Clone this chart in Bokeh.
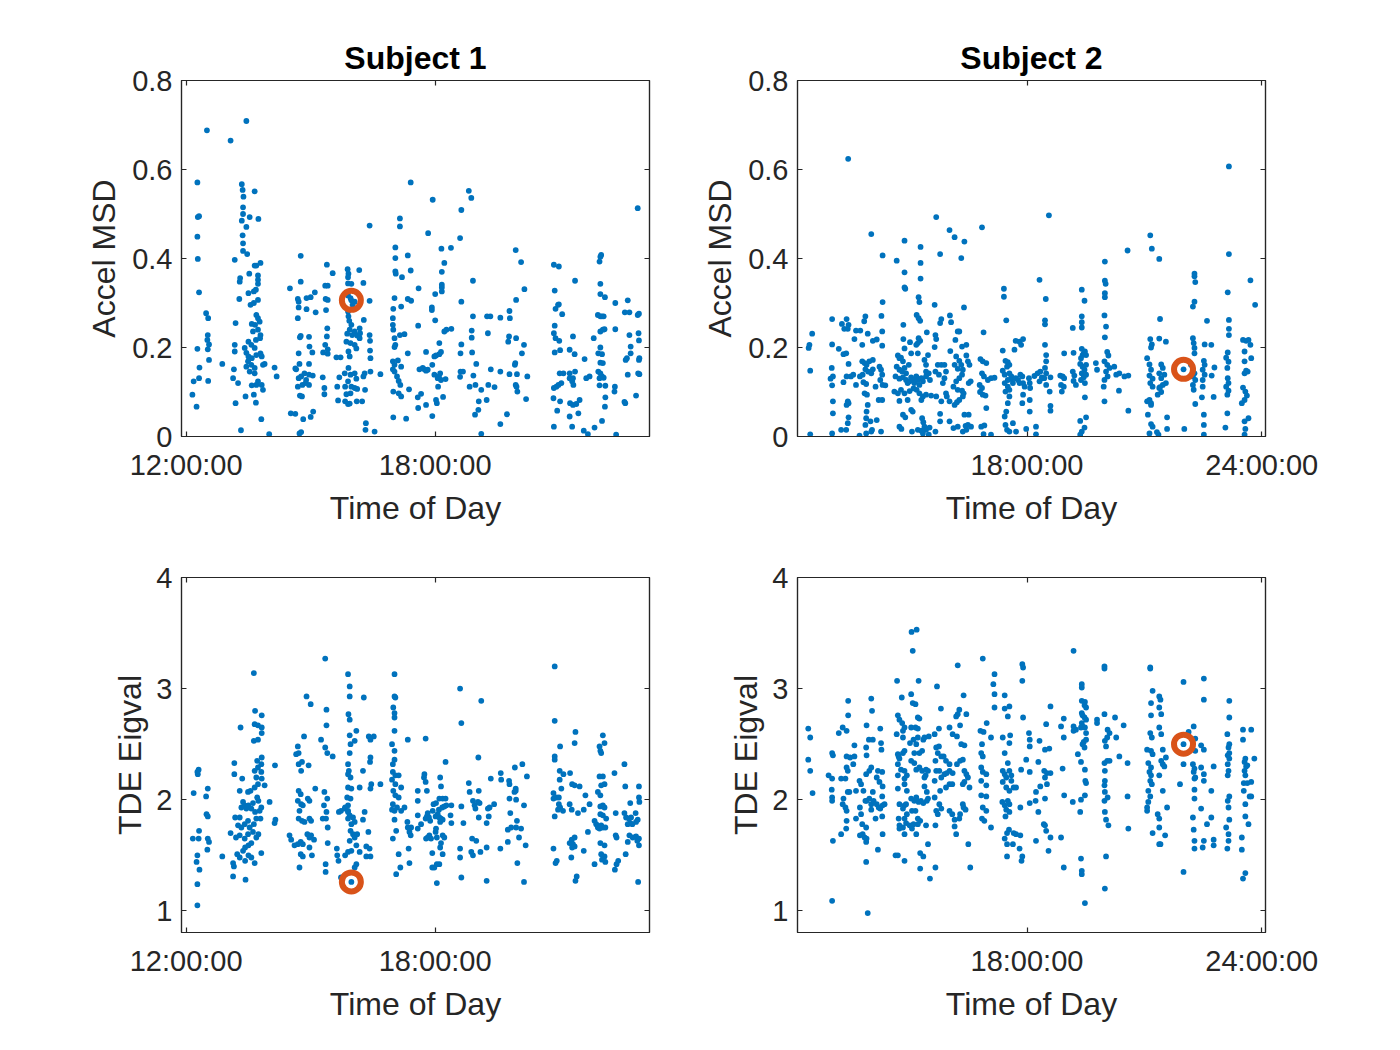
from bokeh.plotting import figure
from bokeh.layouts import column, row
from bokeh.models import (FixedTicker, CustomJSTickFormatter, LinearAxis, Range1d,
                          ColumnDataSource)
from bokeh.embed import file_html
from bokeh.resources import INLINE

# ---------------- data (time of day in hours, value) ----------------
titles = ["Subject 1", "Subject 2"]
y_labels = ["Accel MSD", "TDE Eigval"]
x_label = "Time of Day"

s1_x_ticks = [12, 18]
s2_x_ticks = [18, 24]
msd_ticks = [0, 0.2, 0.4, 0.6, 0.8]
eig_ticks = [1, 2, 3, 4]

s1_hi_time, s1_hi_msd, s1_hi_eig = 15.98, 0.306, 1.26
s2_hi_time, s2_hi_msd, s2_hi_eig = 22.00, 0.151, 2.50

s1_msd_pts = [
    (12.50,0.688),(12.27,0.571),(12.28,0.493),(12.31,0.495),(12.27,0.449),(12.28,0.399),(12.31,0.324),
    (12.48,0.277),(12.53,0.266),(12.52,0.228),(12.51,0.217),(12.55,0.207),(12.52,0.196),(12.27,0.197),
    (12.55,0.172),(12.32,0.155),(12.31,0.131),(12.18,0.124),(12.15,0.094),(12.25,0.067),(12.53,0.125),
    (13.07,0.665),(13.45,0.709),(12.87,0.163),(13.17,0.397),(13.19,0.255),(13.17,0.206),(13.17,0.191),
    (13.15,0.151),(13.13,0.131),(13.25,0.120),(13.19,0.075),(13.32,0.014),(13.28,0.309),(13.30,0.356),
    (13.29,0.348),
    (13.34,0.567),(13.36,0.554),(13.38,0.539),(13.37,0.515),(13.37,0.500),(13.34,0.485),(13.45,0.471),
    (13.36,0.452),(13.37,0.434),(13.37,0.417),(13.47,0.410),(13.65,0.551),(13.53,0.493),(13.74,0.489),
    (13.65,0.384),(13.69,0.384),(13.79,0.390),(13.52,0.366),(13.73,0.362),(13.73,0.352),(13.73,0.343),
    (13.50,0.322),(13.63,0.326),(13.68,0.330),(13.73,0.307),(13.55,0.296),(13.63,0.300),
    (13.69,0.273),(13.73,0.266),(13.77,0.258),(13.66,0.251),(13.58,0.253),
    (13.61,0.236),(13.73,0.240),(13.79,0.228),(13.68,0.217),(13.78,0.221),
    (13.50,0.213),(13.57,0.206),(13.65,0.199),(13.41,0.199),(13.45,0.188),(13.50,0.180),(13.58,0.176),
    (13.69,0.183),(13.79,0.187),(13.82,0.180),(13.49,0.169),(13.57,0.161),(13.65,0.154),(13.45,0.157),
    (13.53,0.146),(13.65,0.142),(13.85,0.161),(13.89,0.163),(13.73,0.124),(13.69,0.116),(13.58,0.115),
    (13.82,0.116),(13.85,0.105),(13.63,0.094),(13.43,0.090),(13.68,0.076),(13.81,0.039),
    (14.00,0.005),(14.13,0.155),(14.18,0.135),
    (14.50,0.333),(14.76,0.406),(14.76,0.348),(14.69,0.309),(14.71,0.303),(14.71,0.290),(14.90,0.311),
    (15.00,0.313),(15.10,0.324),(14.69,0.266),(14.90,0.286),(15.12,0.279),(14.76,0.226),(14.74,0.223),
    (14.96,0.224),(14.71,0.187),(14.97,0.202),(15.04,0.189),(14.63,0.153),(14.65,0.151),(14.73,0.163),
    (14.96,0.163),(14.71,0.131),(14.77,0.135),(14.85,0.142),(14.89,0.127),(14.96,0.139),(15.05,0.137),
    (14.69,0.112),(14.80,0.116),(14.88,0.120),(14.96,0.116),(14.74,0.092),(14.79,0.090),(14.52,0.052),
    (14.63,0.051),(14.82,0.039),(15.00,0.044),(15.06,0.056),(14.73,0.007),(14.77,0.010),
    (15.39,0.386),(15.53,0.367),(15.35,0.339),(15.41,0.339),(15.36,0.309),(15.41,0.307),(15.37,0.284),
    (15.40,0.243),(15.39,0.225),(15.35,0.206),(15.41,0.196),(15.30,0.189),(15.41,0.186),(15.62,0.178),
    (15.72,0.178),(15.29,0.133),(15.33,0.109),(15.33,0.095),(15.64,0.112),(15.69,0.133),(15.66,0.081),
    (15.98,0.306),
    (15.89,0.376),(15.91,0.366),(15.90,0.358),(15.90,0.344),(15.98,0.343),(16.17,0.374),(16.27,0.345),
    (16.42,0.474),(16.42,0.305),(15.90,0.317),(15.96,0.311),(16.06,0.303),(16.01,0.296),
    (15.90,0.281),(15.91,0.270),(15.93,0.260),(15.98,0.251),(15.94,0.240),(15.88,0.231),
    (16.00,0.228),(16.06,0.236),(16.12,0.227),(16.18,0.243),(16.19,0.232),(16.18,0.221),(16.28,0.262),
    (15.86,0.213),(15.96,0.210),(16.06,0.206),(15.91,0.191),(15.94,0.180),(16.10,0.198),
    (16.42,0.228),(16.43,0.215),(16.43,0.193),(16.44,0.176),(16.44,0.146),
    (15.82,0.142),(15.91,0.154),(15.96,0.139),(16.06,0.142),(16.10,0.130),(15.90,0.124),(15.83,0.112),
    (15.98,0.112),(16.06,0.109),(16.12,0.107),(15.96,0.097),(15.86,0.095),(15.83,0.079),(15.90,0.073),
    (15.94,0.074),(16.11,0.079),(16.24,0.079),(16.31,0.105),(16.30,0.142),(16.27,0.135),(16.68,0.140),
    (16.33,0.030),(16.32,0.015),(16.54,0.011),
    (17.41,0.571),(17.15,0.490),(17.15,0.472),(17.04,0.425),(17.04,0.401),(17.34,0.407),(17.41,0.373),
    (17.04,0.371),(17.05,0.366),(17.20,0.358),(17.02,0.311),(17.34,0.309),(17.42,0.305),(16.99,0.287),
    (16.98,0.266),(16.98,0.251),(16.99,0.240),(17.18,0.292),(17.02,0.221),(17.04,0.206),(17.02,0.201),
    (17.15,0.228),(17.26,0.230),(17.34,0.187),(16.98,0.169),(17.02,0.161),(17.10,0.171),(17.18,0.157),
    (16.98,0.151),(17.02,0.146),(17.08,0.135),(17.12,0.125),(17.16,0.116),(16.99,0.101),(17.12,0.097),
    (17.18,0.090),(17.37,0.106),(16.99,0.043),(17.30,0.040),(17.60,0.333),(17.59,0.249),(17.58,0.088),
    (17.59,0.064),
    (17.78,0.190),(17.62,0.151),(17.70,0.154),(17.74,0.151),(17.78,0.148),(17.82,0.150),
    (17.66,0.096),(17.78,0.071),(17.93,0.046),(17.94,0.532),(17.83,0.457),(17.92,0.290),(17.92,0.284),
    (18.00,0.261),(17.98,0.180),(18.02,0.182),(18.10,0.185),(18.14,0.190),
    (17.93,0.161),(17.98,0.139),(18.06,0.131),(18.12,0.142),(18.09,0.135),(18.14,0.127),(18.25,0.129),
    (18.07,0.112),(18.02,0.082),(18.04,0.075),(18.19,0.089),
    (18.15,0.422),(18.22,0.390),(18.16,0.370),(18.16,0.341),(18.16,0.335),(18.16,0.326),
    (18.22,0.236),(18.27,0.240),(18.39,0.242),(18.10,0.210),(18.00,0.320),
    (18.38,0.424),(18.60,0.446),(18.63,0.509),(18.81,0.552),(18.87,0.536),
    (18.91,0.350),(18.63,0.303),(18.91,0.270),(18.88,0.238),(18.88,0.222),(18.63,0.207),(18.61,0.187),
    (18.89,0.189),(18.61,0.146),(18.67,0.146),(18.60,0.134),(18.92,0.137),(18.99,0.163),
    (18.83,0.112),(18.97,0.116),(19.11,0.105),(19.05,0.079),(19.04,0.060),(18.96,0.049),(19.11,0.006),
    (19.25,0.270),(19.33,0.270),(19.27,0.232),(19.28,0.116),(19.24,0.082),(19.34,0.151),(19.43,0.111),
    (19.57,0.267),(19.57,0.146),(19.57,0.028),(19.73,0.050),
    (19.79,0.282),(19.80,0.266),(19.76,0.213),(19.78,0.225),(19.79,0.140),
    (19.94,0.419),(20.07,0.392),(19.95,0.307),
    (19.95,0.221),(19.93,0.165),(19.92,0.161),(19.97,0.140),(19.94,0.116),(19.96,0.112),(19.98,0.101),
    (20.15,0.331),(20.09,0.187),(20.14,0.206),(20.22,0.135),(20.19,0.084),
    (20.86,0.386),(20.98,0.382),(20.88,0.328),(20.90,0.287),(20.96,0.296),(20.98,0.297),(21.06,0.275),
    (20.88,0.249),(20.86,0.232),(20.90,0.221),(20.99,0.215),(20.88,0.189),(21.01,0.194),
    (21.00,0.142),(21.09,0.142),(21.24,0.142),(21.24,0.195),(21.36,0.185),(21.32,0.225),(21.37,0.350),
    (20.86,0.109),(20.92,0.112),(20.97,0.116),(21.04,0.120),(20.85,0.086),(21.01,0.079),(20.94,0.058),
    (20.86,0.022),
    (21.24,0.131),(21.32,0.131),(21.37,0.146),(21.30,0.124),(21.33,0.116),(21.25,0.075),(21.32,0.071),
    (21.40,0.073),(21.45,0.052),(21.24,0.045),(21.30,0.022),
    (21.48,0.082),(21.60,0.174),(21.64,0.131),(21.72,0.135),(21.58,0.013),(21.68,0.005),(21.84,0.020),
    (22.00,0.408),(21.98,0.404),(21.96,0.393),(21.98,0.343),(21.98,0.320),(22.09,0.313),
    (21.92,0.273),(21.98,0.270),(22.02,0.270),(22.06,0.270),
    (21.98,0.236),(22.04,0.240),(22.08,0.241),(21.82,0.221),(21.98,0.200),(21.93,0.187),(22.02,0.185),
    (21.98,0.166),(22.04,0.165),
    (21.93,0.146),(21.98,0.142),(22.02,0.135),(21.96,0.131),(22.06,0.132),(21.96,0.115),(22.10,0.114),
    (22.10,0.088),(22.09,0.067),(22.02,0.035),
    (22.34,0.300),(22.34,0.241),(22.33,0.112),(22.32,0.101),(22.36,0.004),
    (22.56,0.078),(22.58,0.075),(22.64,0.306),(22.57,0.279),(22.68,0.279),(22.68,0.228),(22.71,0.202),
    (22.71,0.187),(22.59,0.172),(22.62,0.176),(22.64,0.139),(22.84,0.092),
    (22.88,0.273),(22.91,0.276),(22.90,0.232),(22.91,0.216),(22.92,0.176),(22.91,0.172),(22.89,0.142),
    (22.92,0.140),(22.88,0.513),
]

s2_msd_pts = [
    (12.46,0.005),(12.44,0.206),(12.42,0.199),(12.51,0.231),(12.46,0.148),
    (13.02,0.007),(13.02,0.264),(13.02,0.207),(13.01,0.154),(13.04,0.135),(12.98,0.130),(13.02,0.115),
    (13.04,0.079),(13.04,0.052),(13.19,0.197),
    (13.25,0.015),(13.38,0.015),(13.42,0.030),(13.44,0.043),
    (13.27,0.253),(13.39,0.264),(13.33,0.242),(13.42,0.242),(13.44,0.251),
    (13.31,0.185),(13.38,0.187),(13.44,0.163),
    (13.31,0.122),(13.39,0.135),(13.50,0.135),(13.56,0.139),
    (13.42,0.079),(13.39,0.071),(13.44,0.075),(13.43,0.624),
    (13.59,0.219),(13.63,0.238),(13.74,0.238),(13.63,0.116),
    (13.73,0.135),(13.80,0.139),(13.79,0.169),(13.85,0.165),(13.90,0.161),(13.87,0.151),(13.94,0.146),
    (14.02,0.142),(13.97,0.169),(14.06,0.172),(14.06,0.151),
    (13.89,0.118),(13.82,0.122),(13.85,0.097),
    (13.87,0.270),(13.84,0.259),(13.93,0.231),(13.79,0.206),(14.06,0.215),(14.16,0.218),
    (14.02,0.455),(14.31,0.407),(14.31,0.302),(14.28,0.271),(14.30,0.236),(14.30,0.204),
    (14.23,0.157),(14.27,0.150),(14.30,0.139),(14.25,0.127),(14.31,0.116),(14.38,0.115),(14.13,0.112),
    (13.91,0.094),(13.93,0.071),(13.90,0.056),(13.89,0.041),(13.87,0.026),(14.00,0.034),(14.04,0.015),
    (14.16,0.037),(14.21,0.082),(14.30,0.082),
    (13.89,0.007),(14.02,0.011),(14.27,0.011),(13.72,0.002),
    (14.67,0.395),(14.87,0.440),(14.87,0.369),(14.87,0.335),(14.89,0.332),(14.84,0.251),(14.84,0.219),
    (14.87,0.198),(14.70,0.182),(14.74,0.176),(14.78,0.177),(14.83,0.169),
    (14.67,0.157),(14.74,0.150),(14.81,0.146),(14.87,0.154),(14.91,0.142),
    (14.64,0.135),(14.74,0.130),(14.83,0.133),(14.91,0.127),(14.95,0.120),(15.00,0.124),(15.04,0.133),
    (15.08,0.127),(15.12,0.120),(15.17,0.135),(15.21,0.127),(15.25,0.116),(15.30,0.131),(15.34,0.124),
    (15.42,0.135),
    (14.61,0.101),(14.70,0.097),(14.78,0.105),(14.87,0.097),(15.00,0.102),(15.10,0.108),(15.18,0.105),
    (15.25,0.097),(14.74,0.080),(14.95,0.082),
    (14.83,0.049),(14.89,0.043),(15.04,0.060),(15.08,0.056),
    (14.74,0.022),(14.79,0.017),(15.06,0.011),(15.21,0.015),
    (15.01,0.212),(15.04,0.187),(14.98,0.161),
    (15.17,0.206),(15.21,0.210),(15.27,0.215),(15.23,0.221),(15.21,0.187),
    (15.28,0.426),(15.28,0.390),(15.28,0.355),(15.23,0.313),(15.25,0.302),(15.18,0.273),(15.23,0.266),
    (15.27,0.260),
    (15.44,0.234),(15.47,0.183),(15.38,0.172),(15.42,0.161),(15.42,0.146),(15.49,0.142),(15.52,0.127),
    (15.30,0.082),(15.34,0.090),(15.42,0.094),(15.55,0.092),
    (15.32,0.041),(15.35,0.032),(15.38,0.022),(15.42,0.015),(15.51,0.020),(15.49,0.004),(15.34,0.007),
    (15.30,0.013),
    (15.64,0.296),(15.68,0.493),(15.78,0.410),(15.81,0.264),(15.78,0.255),
    (15.66,0.228),(15.68,0.219),(15.64,0.201),
    (15.72,0.161),(15.66,0.146),(15.75,0.139),(15.81,0.161),(15.89,0.161),(15.93,0.146),(15.89,0.131),
    (15.85,0.120),
    (15.68,0.090),(15.81,0.079),(15.78,0.051),(15.78,0.034),(15.66,0.011),(15.93,0.097),(15.95,0.090),
    (16.02,0.464),(16.15,0.448),(16.03,0.272),(16.06,0.257),(16.04,0.192),
    (16.17,0.217),(16.23,0.236),(16.27,0.236),
    (16.19,0.180),(16.27,0.170),(16.15,0.161),(16.23,0.152),(16.32,0.161),(16.36,0.150),(16.34,0.139),
    (16.27,0.131),(16.19,0.124),(16.12,0.112),(16.23,0.105),(16.34,0.103),(16.38,0.097),
    (16.02,0.079),(16.15,0.071),(16.21,0.077),(16.27,0.082),(16.36,0.090),
    (16.02,0.034),(16.12,0.019),(16.23,0.022),(16.36,0.011),(16.45,0.015),(16.43,0.024),(16.49,0.026),
    (16.40,0.438),(16.32,0.401),(16.39,0.290),(16.34,0.202),(16.45,0.206),
    (16.45,0.182),(16.49,0.169),(16.53,0.161),(16.51,0.120),(16.56,0.124),
    (16.40,0.049),(16.51,0.049),(16.57,0.022),
    (16.85,0.470),(16.89,0.234),(16.81,0.174),(16.87,0.169),(16.96,0.165),
    (16.85,0.142),(16.90,0.135),(17.00,0.127),(17.08,0.131),(17.17,0.132),
    (16.79,0.116),(16.85,0.109),(16.80,0.100),(16.87,0.094),(16.94,0.092),(16.96,0.064),
    (16.83,0.022),(16.91,0.025),(16.89,0.005),(17.08,0.004),
    (17.41,0.332),(17.41,0.314),(17.47,0.261),(17.38,0.193),
    (17.45,0.170),(17.51,0.167),(17.49,0.157),(17.55,0.161),(17.38,0.148),(17.43,0.139),(17.55,0.142),
    (17.60,0.135),(17.51,0.127),(17.43,0.120),(17.51,0.112),(17.55,0.105),(17.45,0.101),
    (17.60,0.129),(17.64,0.120),(17.71,0.131),(17.77,0.127),(17.81,0.120),
    (17.55,0.090),(17.51,0.075),(17.47,0.056),(17.43,0.045),
    (17.45,0.026),(17.49,0.015),(17.55,0.011),(17.64,0.030),(17.72,0.011),
    (17.71,0.215),(17.81,0.213),(17.90,0.219),(17.85,0.206),(17.68,0.195),
    (17.83,0.139),(17.88,0.135),(17.90,0.120),(17.94,0.112),(17.90,0.094),(17.88,0.075),
    (18.05,0.131),(18.07,0.120),(18.08,0.109),(18.07,0.082),(18.07,0.056),(17.98,0.017),(18.19,0.136),
    (18.23,0.022),(18.23,0.005),(18.32,0.352),
    (18.27,0.142),(18.34,0.146),(18.38,0.133),(18.32,0.124),(18.40,0.131),
    (18.48,0.309),(18.46,0.261),(18.46,0.252),(18.46,0.206),
    (18.49,0.183),(18.49,0.169),(18.46,0.154),(18.49,0.142),(18.44,0.131),(18.49,0.116),
    (18.60,0.133),(18.58,0.101),(18.60,0.069),(18.60,0.058),(18.56,0.497),
    (18.85,0.137),(18.91,0.135),(18.95,0.131),(18.87,0.116),(18.89,0.101),(18.94,0.112),(18.95,0.187),
    (19.17,0.244),(19.19,0.188),(19.17,0.146),(19.21,0.137),(19.19,0.125),(19.25,0.116),
    (19.40,0.330),(19.47,0.305),(19.40,0.270),(19.40,0.257),(19.40,0.245),
    (19.40,0.197),(19.42,0.183),(19.38,0.176),(19.45,0.187),(19.48,0.191),(19.51,0.183),
    (19.36,0.163),(19.42,0.157),(19.47,0.150),(19.51,0.161),(19.40,0.142),(19.45,0.133),(19.51,0.139),
    (19.38,0.127),(19.48,0.120),
    (19.48,0.088),(19.51,0.043),(19.36,0.035),(19.47,0.020),(19.40,0.011),(19.36,0.004),
    (19.76,0.165),(19.79,0.150),
    (19.99,0.393),(19.99,0.350),(20.01,0.343),(19.99,0.322),(19.99,0.313),(19.98,0.272),(20.02,0.247),
    (19.99,0.223),(20.05,0.190),(20.08,0.182),
    (19.98,0.169),(20.05,0.161),(20.11,0.154),(20.02,0.146),(20.06,0.135),(19.98,0.127),(19.96,0.112),
    (20.23,0.157),(20.28,0.139),(20.36,0.142),(20.49,0.135),(20.59,0.137),
    (20.35,0.103),(19.98,0.079),(20.59,0.058),
    (20.57,0.418),(21.15,0.452),(21.19,0.422),(21.38,0.399),(21.40,0.264),
    (21.15,0.219),(21.19,0.207),(21.17,0.200),(21.07,0.176),
    (21.13,0.162),(21.17,0.150),(21.13,0.137),(21.21,0.130),(21.15,0.120),(21.21,0.112),
    (21.38,0.220),(21.55,0.213),
    (21.43,0.162),(21.47,0.154),(21.38,0.142),(21.51,0.139),(21.43,0.131),(21.55,0.120),(21.47,0.116),
    (21.38,0.109),(21.43,0.100),(21.34,0.094),(21.40,0.111),
    (21.13,0.082),(21.17,0.075),(21.07,0.079),(21.17,0.071),
    (21.09,0.049),(21.17,0.028),(21.21,0.022),(21.13,0.007),(21.32,0.010),(21.36,0.004),
    (21.58,0.043),(21.58,0.017),
    (22.00,0.151),(22.02,0.017),
    (22.28,0.366),(22.28,0.360),(22.30,0.347),(22.28,0.303),(22.24,0.292),
    (22.24,0.221),(22.26,0.210),(22.28,0.199),(22.28,0.187),
    (22.19,0.161),(22.24,0.150),(22.28,0.142),(22.24,0.135),(22.30,0.127),(22.24,0.116),(22.26,0.105),
    (22.30,0.073),(22.54,0.207),(22.60,0.260),
    (22.52,0.170),(22.54,0.161),(22.49,0.150),(22.54,0.139),(22.49,0.127),(22.49,0.112),(22.47,0.088),
    (22.52,0.049),(22.52,0.026),(22.52,0.004),
    (22.71,0.206),(22.79,0.155),(22.72,0.137),(22.77,0.089),
    (23.16,0.607),(23.16,0.410),(23.13,0.324),(23.16,0.262),(23.16,0.242),(23.16,0.228),
    (23.13,0.189),(23.09,0.177),(23.15,0.168),
    (23.12,0.154),(23.13,0.131),(23.15,0.120),(23.09,0.112),(23.15,0.103),(23.12,0.094),
    (23.12,0.052),(23.07,0.020),
    (23.52,0.217),(23.60,0.215),(23.66,0.217),(23.71,0.206),(23.56,0.191),
    (23.56,0.169),(23.60,0.148),(23.56,0.142),(23.64,0.146),
    (23.52,0.110),(23.58,0.101),(23.62,0.092),(23.56,0.082),(23.49,0.075),
    (23.56,0.034),(23.66,0.041),(23.58,0.017),(23.56,0.004),
    (23.71,0.351),(23.83,0.296),(23.73,0.176),
]

s1_eig_pts = [
    (12.27,1.05),(12.27,1.24),(12.32,1.37),(12.25,1.44),(12.27,1.50),(12.16,1.65),(12.30,1.65),
    (12.31,1.72),(12.52,1.65),(12.55,1.62),(12.51,1.55),(12.49,1.87),(12.52,1.85),(12.48,2.03),
    (12.52,2.10),(12.18,2.06),(12.28,2.23),(12.30,2.27),(12.27,2.25),
    (12.87,1.49),(13.07,1.70),(13.13,1.43),(13.15,1.40),(13.13,1.31),(13.43,1.28),(13.18,1.84),
    (13.16,2.23),(13.16,2.33),(13.31,2.65),(13.35,2.19),(13.29,2.08),
    (13.37,1.98),(13.33,1.93),(13.41,1.95),(13.45,1.92),(13.50,1.95),(13.57,1.92),(13.61,1.97),
    (13.29,1.84),(13.25,1.77),(13.33,1.75),(13.41,1.78),(13.49,1.81),(13.53,1.75),(13.63,1.78),
    (13.69,1.83),(13.79,1.83),
    (13.20,1.66),(13.29,1.68),(13.41,1.65),(13.49,1.69),(13.61,1.71),(13.69,1.66),(13.74,1.69),
    (13.42,1.57),(13.50,1.59),(13.57,1.61),(13.37,1.54),
    (13.23,1.51),(13.29,1.48),(13.50,1.50),(13.57,1.48),(13.42,1.45),(13.65,1.43),(13.81,1.52),
    (13.49,2.07),(13.55,2.08),(13.65,2.11),(13.73,2.14),(13.69,2.20),(13.65,2.26),(13.73,2.29),
    (13.81,2.32),(13.82,2.38),(13.71,2.35),(13.81,2.25),(13.82,2.19),(13.89,2.13),
    (13.71,2.02),(13.74,1.99),(13.66,1.89),(13.77,1.90),(13.81,1.93),
    (13.63,2.53),(13.73,2.54),(13.82,2.60),(13.65,2.68),(13.73,2.67),(13.82,2.65),
    (13.66,2.80),(13.82,2.76),(13.63,3.14),
    (14.01,1.98),(14.14,2.31),(14.15,1.82),(14.13,1.79),
    (14.49,1.68),(14.53,1.64),(14.61,1.59),(14.69,1.60),(14.76,1.62),(14.81,1.60),
    (14.76,1.51),(14.81,1.49),(14.73,1.39),
    (14.65,2.41),(14.71,2.42),(14.69,2.48),(14.84,2.57),
    (14.71,2.32),(14.79,2.34),(14.77,2.26),(14.95,2.31),
    (14.71,2.08),(14.76,2.05),(14.69,1.99),(14.77,1.96),(14.73,1.90),(14.81,1.95),(14.93,2.01),
    (14.97,1.99),(15.11,2.10),
    (14.71,1.83),(14.79,1.81),(14.85,1.80),(14.97,1.83),(15.01,1.81),
    (14.92,1.69),(14.97,1.66),(15.01,1.68),(15.08,1.64),(14.97,1.57),(15.03,1.50),
    (14.90,2.93),(15.00,2.86),
    (15.25,2.54),(15.35,2.47),(15.40,2.42),(15.53,2.39),(15.38,2.81),(15.38,2.67),(15.35,3.27),
    (15.33,2.07),(15.40,2.01),(15.38,1.89),(15.32,1.95),(15.37,1.83),(15.29,1.83),
    (15.41,1.75),(15.41,1.61),(15.36,1.42),(15.36,1.35),
    (15.63,1.56),(15.64,1.50),(15.67,1.45),(15.68,1.89),(15.73,1.90),(15.82,1.92),(15.90,1.89),
    (15.90,3.13),(15.94,3.02),(15.94,2.93),(15.91,2.77),(15.94,2.72),
    (15.94,2.58),(15.96,2.50),(16.10,2.62),(16.06,2.53),(15.94,2.42),
    (15.90,2.32),(15.92,2.26),(15.90,2.23),(15.96,2.20),(15.90,2.11),(15.98,2.10),
    (15.88,2.02),(15.96,2.01),(15.90,1.95),(15.83,1.93),(15.90,1.90),(15.94,1.86),(15.90,1.83),
    (16.02,1.84),
    (15.98,1.78),(16.06,1.80),(15.96,1.72),(16.02,1.69),(16.06,1.66),(15.94,1.63),(16.12,1.69),
    (15.83,1.50),(15.90,1.53),(15.98,1.54),(16.10,1.59),(16.18,1.53),
    (16.10,1.42),(16.06,1.39),(15.98,1.26),(15.73,1.30),
    (16.18,2.11),(16.26,2.26),(16.28,2.92),
    (16.40,2.57),(16.52,2.57),(16.44,2.54),(16.44,2.38),(16.43,2.34),(16.46,2.14),(16.44,2.10),
    (16.30,1.89),(16.26,1.82),
    (16.34,1.58),(16.42,1.56),(16.34,1.49),(16.44,1.49),(16.39,1.71),(16.68,2.14),
    (17.02,3.13),(17.02,2.93),(17.04,2.92),(16.99,2.83),(17.02,2.78),(17.02,2.74),
    (17.02,2.62),(16.96,2.50),(17.02,2.44),
    (17.02,2.36),(16.98,2.32),(16.98,2.25),(17.04,2.22),(17.12,2.22),
    (16.96,2.18),(17.04,2.14),(16.99,2.08),(17.04,2.04),(17.12,2.02),(17.18,2.11),
    (16.98,1.96),(17.02,1.90),(16.96,1.91),(17.08,1.93),(17.18,1.90),(17.26,1.93),
    (17.02,1.82),(17.06,1.72),(16.98,1.65),
    (17.12,1.51),(17.06,1.33),(17.16,1.39),
    (17.34,2.54),
    (17.34,1.75),(17.38,1.71),(17.42,1.75),(17.33,1.80),(17.41,1.68),(17.36,1.56),(17.38,1.43),
    (17.58,2.08),(17.58,1.99),(17.58,1.86),(17.58,1.74),
    (17.66,1.78),(17.77,2.55),
    (17.74,2.23),(17.73,2.20),(17.77,2.16),(17.80,2.08),
    (17.77,1.83),(17.80,1.85),(17.82,1.88),(17.85,1.84),(17.88,1.81),(17.78,1.65),(17.82,1.66),
    (17.86,1.68),(17.90,1.65),(17.93,1.52),
    (17.96,1.96),(18.02,1.97),(17.94,1.90),(18.01,1.85),(18.06,1.87),
    (18.02,1.74),(18.01,1.71),(18.04,1.66),(18.10,1.84),(18.14,1.83),(18.12,1.80),(18.18,1.82),
    (18.12,2.20),(18.14,2.12),(18.10,2.01),(18.18,2.01),(18.25,2.01),(18.17,1.93),(18.22,1.94),
    (18.09,1.91),(18.27,1.95),(18.39,1.95),
    (18.18,1.68),(18.22,1.66),(18.14,1.61),(18.12,1.57),(18.18,1.51),
    (17.93,1.39),(17.98,1.39),(18.04,1.42),(18.10,1.42),(18.04,1.25),
    (18.25,2.34),(18.37,1.86),(18.39,1.79),
    (18.63,1.94),(18.60,3.00),(18.63,2.69),(18.68,1.79),(18.60,1.56),(18.60,1.48),(18.63,1.30),
    (18.81,2.15),(18.83,2.07),
    (18.91,1.99),(18.95,1.95),(18.97,1.92),(19.03,1.98),(19.05,2.08),(19.07,1.97),
    (19.05,1.84),(19.24,1.79),(19.29,1.85),(19.27,1.92),(19.31,1.93),
    (18.89,1.65),(18.99,1.63),(18.87,1.53),(18.91,1.50),(19.09,1.53),(19.24,1.57),
    (19.04,2.38),(19.11,2.89),(19.24,1.27),(19.34,2.19),(19.42,1.96),
    (19.58,2.24),(19.59,2.18),(19.57,1.56),
    (19.78,2.17),(19.79,2.14),(19.79,2.01),(19.81,1.88),(19.91,2.07),(19.94,2.08),(19.94,2.10),
    (19.95,2.00),
    (19.75,1.73),(19.83,1.75),(19.95,1.75),(20.07,1.74),(19.97,1.81),
    (19.75,1.62),(20.02,1.66),
    (19.92,2.29),(20.10,2.32),(20.21,2.21),(20.14,1.95),(20.18,1.59),(19.98,1.43),(20.14,1.26),
    (20.88,3.20),(20.88,2.71),(20.88,2.39),(20.88,2.36),(21.01,2.48),
    (21.00,2.26),(21.09,2.23),(21.00,2.18),(21.04,2.10),
    (20.85,2.06),(20.92,2.02),(20.98,2.02),(20.85,2.01),
    (20.98,1.96),(21.01,1.93),(21.08,1.90),(20.96,1.91),(20.88,1.85),
    (20.85,1.56),(20.90,1.43),(20.93,1.45),
    (21.25,2.24),(21.30,2.14),(21.36,2.13),(21.48,2.12),(21.38,2.61),(21.36,2.51),
    (21.24,1.96),(21.29,1.91),(21.44,1.88),(21.58,1.91),(21.62,2.04),(21.72,1.96),
    (21.24,1.61),(21.29,1.64),(21.36,1.66),(21.32,1.60),(21.36,1.58),(21.30,1.57),
    (21.28,1.48),(21.41,1.31),(21.38,1.27),(21.58,1.54),(21.68,1.71),
    (21.84,1.81),(21.88,1.78),(21.92,1.75),(21.96,1.74),(22.00,1.77),(22.04,1.75),(22.10,1.75),
    (21.92,2.07),(21.98,2.04),(21.98,1.94),(22.04,1.95),(22.08,1.93),
    (21.96,2.21),(22.04,2.21),(22.08,2.14),(22.00,2.13),
    (21.96,2.48),(21.98,2.44),(22.00,2.42),(22.08,2.51),(22.04,2.58),
    (21.98,1.87),(22.04,1.86),(22.12,1.83),
    (21.98,1.61),(22.08,1.59),
    (22.00,1.51),(22.08,1.49),(22.02,1.46),(22.10,1.44),(21.84,1.42),
    (22.32,2.24),(22.35,1.88),(22.35,1.68),(22.37,1.66),
    (22.41,1.45),(22.37,1.42),(22.33,1.37),
    (22.56,2.32),(22.58,2.12),
    (22.56,1.88),(22.60,1.84),(22.67,1.83),(22.72,1.84),(22.64,1.78),(22.70,1.79),(22.75,1.78),
    (22.84,1.80),(22.88,1.82),(22.83,1.88),(22.70,1.97),
    (22.59,1.51),
    (22.64,1.62),(22.68,1.68),(22.76,1.66),(22.84,1.67),(22.91,1.65),(22.91,1.59),(22.87,1.63),
    (22.91,2.12),(22.91,2.02),(22.92,1.98),(22.89,1.26),
]

s2_eig_pts = [
    (12.41,2.64),(12.46,2.56),(12.41,2.36),(12.46,2.26),(12.52,2.06),
    (12.93,2.22),(13.02,2.19),(13.01,2.09),(13.02,2.02),(13.02,1.99),(13.02,2.42),(13.04,2.40),
    (13.04,1.63),(13.02,1.09),
    (13.19,2.60),(13.29,2.65),(13.39,2.62),(13.25,2.19),(13.36,2.19),
    (13.42,2.26),(13.39,2.29),(13.48,2.38),(13.39,2.39),(13.59,2.39),(13.56,2.32),
    (13.43,2.76),(13.43,2.89),(13.59,2.49),
    (13.31,2.01),(13.29,1.96),(13.36,1.93),(13.39,1.90),(13.42,2.07),(13.46,2.07),
    (13.39,1.81),(13.38,1.74),(13.25,1.69),
    (13.63,2.08),(13.72,2.17),(13.76,2.14),(13.82,2.08),(13.87,1.99),(13.73,1.93),(13.90,1.99),
    (13.97,2.01),(14.02,1.96),
    (13.63,1.83),(13.76,1.87),(13.79,1.78),(13.89,1.75),(13.80,1.69),(13.73,1.68),(13.85,1.66),
    (13.90,1.65),(13.89,1.62),
    (13.89,1.44),(13.93,0.98),(13.90,2.67),(14.02,2.91),(14.04,2.80),
    (13.89,2.47),(13.96,2.54),(14.06,2.54),(13.90,2.40),
    (13.89,2.23),(13.97,2.26),(14.02,2.29),(14.16,2.20),(14.19,2.26),(14.23,2.16),(14.31,2.12),
    (14.06,2.07),(14.08,1.99),(14.16,1.96),(14.21,1.93),(14.25,1.92),(14.31,1.95),(14.36,1.96),
    (14.30,2.03),
    (14.02,1.91),(14.13,1.83),(14.30,1.85),(14.31,1.69),(14.19,1.55),
    (14.25,2.64),(14.27,2.51),(14.28,2.45),(14.30,2.25),
    (14.68,3.07),(15.05,3.51),(15.18,3.53),(15.08,3.34),
    (14.80,2.92),(15.04,2.95),(15.15,2.86),(15.08,2.87),(15.21,2.74),(15.25,2.73),(15.23,3.07),
    (14.70,2.76),(14.74,2.72),(14.81,2.69),(14.87,2.65),(14.83,2.62),(14.67,2.59),(14.83,2.56),
    (14.70,2.41),(14.72,2.39),(14.83,2.42),(14.87,2.44),(14.74,2.37),(14.70,2.32),(14.78,2.27),
    (14.87,2.26),(14.93,2.22),(14.70,2.22),(14.87,2.19),
    (14.70,2.10),(14.87,2.14),(14.93,2.08),
    (14.74,1.96),(14.87,1.95),(14.91,1.96),(14.83,1.92),(14.93,1.87),(14.87,1.83),(14.72,1.83),
    (14.74,1.77),(14.83,1.75),(14.87,1.69),(14.74,1.74),(14.91,1.79),(15.00,1.77),(15.06,1.74),
    (15.10,1.78),
    (14.64,1.50),(14.70,1.50),(14.87,1.45),
    (15.01,2.51),(15.10,2.54),(15.21,2.56),(15.17,2.50),(15.25,2.42),(15.12,2.42),(15.32,2.44),
    (15.35,2.54),(15.38,2.56),
    (15.04,2.35),(15.12,2.33),(15.17,2.27),(15.25,2.29),(15.32,2.26),(15.42,2.27),(15.47,2.26),
    (15.41,2.22),
    (15.04,2.65),(15.15,2.65),(15.21,2.64),
    (15.04,2.01),(15.12,1.99),(15.17,2.02),(15.23,1.98),(15.29,1.99),(15.35,1.97),(15.44,1.99),
    (15.47,2.01),
    (15.06,1.90),(15.15,1.90),(15.21,1.83),(15.27,1.81),(15.21,1.78),(15.17,1.69),
    (15.38,2.12),(15.44,2.07),(15.38,2.20),(15.42,1.77),(15.47,1.60),
    (15.27,1.52),(15.35,1.49),(15.27,1.38),(15.52,1.29),(15.66,1.39),
    (15.49,2.57),(15.64,2.59),(15.70,3.02),(15.80,2.82),
    (15.68,2.47),(15.75,2.48),(15.72,2.42),(15.81,2.39),(15.87,2.39),(15.93,2.35),(15.75,2.64),
    (15.66,2.35),
    (15.68,2.26),(15.76,2.26),(15.81,2.20),(15.89,2.23),(15.95,2.24),(16.02,2.26),(16.10,2.24),
    (15.64,2.17),(15.78,2.08),(15.93,2.11),(16.02,2.14),(16.09,2.14),
    (15.64,2.02),(15.76,1.96),(15.68,1.90),(15.72,1.87),(15.81,1.92),(15.66,1.77),
    (16.02,2.65),(16.10,2.59),(16.21,2.57),(16.29,2.67),(16.23,2.77),(16.19,2.75),(16.27,2.81),
    (16.38,2.94),(16.23,3.21),
    (16.02,1.90),(16.09,1.87),(16.15,1.82),(16.15,1.76),(16.19,1.69),(16.27,1.83),(16.29,1.87),
    (16.36,1.96),(16.38,1.93),(16.43,1.91),
    (16.02,2.32),(16.21,2.32),(16.29,2.35),(16.36,2.36),(16.32,2.50),(16.40,2.49),
    (16.40,2.26),(16.45,2.23),(16.40,2.16),(16.49,2.20),(16.53,2.11),(16.36,2.14),
    (16.50,1.60),(16.55,1.39),(16.45,2.77),
    (16.87,3.27),(17.17,3.13),(17.14,3.04),(17.17,2.95),(17.17,2.83),
    (16.81,2.62),(16.89,2.61),
    (16.85,2.50),(16.83,2.42),(16.87,2.39),(16.83,2.29),(16.87,2.25),(16.96,2.23),(16.83,2.17),
    (16.96,2.13),(16.83,2.04),(16.96,2.03),
    (16.87,1.93),(16.96,1.90),(16.85,1.83),(16.91,1.81),(17.08,1.75),(16.97,2.69),(17.08,2.56),
    (17.43,2.94),(17.43,2.82),(17.55,2.84),(17.51,2.75),
    (17.88,3.22),(17.90,3.19),(17.88,3.07),(17.90,2.74),
    (17.38,2.56),(17.57,2.58),(17.55,2.51),(17.43,2.42),(17.51,2.33),
    (17.38,2.26),(17.43,2.23),(17.47,2.20),(17.55,2.26),(17.60,2.22),(17.38,2.16),(17.47,2.11),
    (17.55,2.08),(17.66,2.11),(17.72,2.11),(17.60,2.17),
    (17.37,1.98),(17.43,1.95),(17.47,1.91),(17.55,1.96),(17.51,1.99),(17.55,1.89),(17.45,1.85),
    (17.54,1.73),(17.49,1.70),(17.43,1.65),(17.49,1.60),(17.66,1.70),(17.72,1.69),(17.83,1.68),
    (17.64,1.60),(17.81,1.56),
    (17.49,1.49),(17.88,1.49),(17.86,1.45),
    (18.05,2.60),(18.07,2.54),(18.07,2.48),(17.85,2.27),(17.98,2.36),(18.07,2.25),(17.83,1.93),
    (18.07,1.97),
    (18.32,2.53),(18.29,2.34),(18.34,2.12),(18.23,2.07),(18.22,1.99),(18.29,1.89),
    (18.46,2.45),(18.57,2.46),(18.49,2.68),
    (18.44,2.26),(18.51,2.24),(18.60,2.24),(18.46,2.20),(18.51,2.14),(18.46,2.01),
    (18.43,1.78),(18.46,1.77),(18.49,1.72),(18.60,1.66),(18.55,1.54),(18.23,1.63),
    (18.60,2.84),(18.87,2.66),(18.94,2.73),(18.94,2.56),(18.91,2.28),(18.95,2.04),(18.87,1.66),
    (18.94,1.39),
    (19.19,3.34),(19.19,2.66),(19.25,2.63),(19.19,2.62),
    (19.30,2.41),(19.38,2.34),(19.48,2.27),
    (19.17,1.98),(19.38,2.00),(19.48,2.04),(19.51,2.15),(19.49,2.17),(19.36,1.89),
    (19.40,3.04),(19.40,3.01),(19.40,2.89),(19.48,2.88),(19.47,2.85),(19.51,2.83),(19.40,2.78),
    (19.42,2.76),(19.47,2.74),(19.51,2.72),(19.40,2.69),(19.42,2.66),(19.38,2.65),(19.48,2.65),
    (19.51,2.60),(19.45,2.52),(19.51,2.54),(19.42,2.50),(19.47,2.47),
    (19.38,1.47),(19.40,1.36),(19.40,1.33),(19.48,1.07),
    (19.79,2.72),(19.79,2.69),(19.98,2.77),(20.25,2.74),(20.47,2.67),
    (19.98,3.20),(19.98,3.18),
    (20.06,2.63),(20.11,2.60),(20.05,2.56),(20.28,2.56),
    (19.99,2.53),(20.02,2.48),(20.05,2.35),(19.98,2.33),(20.11,2.35),(19.99,2.26),(19.99,2.17),
    (19.98,2.13),(19.99,2.07),(20.06,2.02),(19.98,1.99),
    (20.36,2.39),(19.99,1.89),(20.02,1.82),(20.08,1.77),(20.02,1.49),(19.99,1.20),
    (20.57,2.33),(20.57,2.03),(20.59,1.74),
    (21.15,3.19),(21.15,3.18),(21.21,2.98),(21.17,2.87),(21.17,2.76),
    (21.15,2.60),(21.19,2.56),(21.07,2.45),(21.17,2.44),(21.21,2.41),
    (21.10,2.33),(21.17,2.29),(21.13,2.25),(21.17,2.22),(21.15,2.17),(21.19,2.14),(21.10,2.08),
    (21.15,2.03),(21.10,1.98),(21.07,1.93),(21.07,1.90),
    (21.38,2.93),(21.41,2.90),(21.38,2.83),(21.43,2.77),(21.38,2.65),(21.43,2.59),
    (21.43,2.35),(21.47,2.32),(21.51,2.30),(21.38,2.22),(21.47,2.45),(21.55,2.38),(21.47,2.08),
    (21.34,1.87),(21.38,1.83),(21.58,1.93),(21.38,1.75),
    (21.21,1.70),(21.38,1.60),(21.41,1.60),(21.53,1.68),
    (22.00,3.06),(22.52,3.09),(22.52,2.90),
    (22.26,2.66),(22.13,2.61),(22.30,2.55),(22.30,2.44),(22.45,2.49),(22.52,2.45),
    (22.00,2.50),(22.00,2.32),
    (22.24,2.32),(22.28,2.28),(22.26,2.25),(22.30,2.20),(22.28,2.19),(22.45,2.29),(22.52,2.23),
    (22.52,2.17),(22.77,2.30),(21.91,2.14),
    (22.28,2.09),(22.28,2.01),(22.71,2.08),
    (22.45,1.92),(22.24,1.84),(22.60,1.78),(22.71,1.84),
    (22.26,1.73),(22.28,1.63),(22.28,1.56),(22.52,1.63),(22.49,1.57),(22.77,1.64),(22.77,1.59),
    (22.00,1.35),
    (23.17,2.89),(23.17,2.74),(23.12,2.59),
    (23.17,2.50),(23.15,2.47),(23.17,2.42),(23.13,2.40),(23.17,2.37),(23.13,2.32),(23.15,2.26),
    (23.13,2.22),
    (23.17,2.03),(23.13,1.99),(23.15,1.93),
    (23.17,1.82),(23.09,1.75),(23.15,1.69),(23.15,1.63),(23.12,1.56),
    (23.52,2.63),(23.73,2.63),(23.52,2.54),
    (23.58,2.37),(23.56,2.34),(23.60,2.30),(23.63,2.31),(23.81,2.37),(23.56,2.26),(23.58,2.22),
    (23.54,2.15),(23.63,2.15),(23.73,2.16),(23.69,2.03),(23.73,2.03),(23.54,2.08),(23.58,1.96),
    (23.58,1.85),(23.66,1.78),(23.49,1.66),(23.49,1.55),(23.58,1.34),(23.52,1.29),
]

# ---------------- styling ----------------
FONT = "Liberation Sans"
BLUE = "#0072BD"
RED = "#D95319"
AX = "#262626"

x_fmt = CustomJSTickFormatter(code="return (tick < 10 ? '0' : '') + tick.toFixed(0) + ':00:00';")
msd_fmt = CustomJSTickFormatter(code="return tick == 0 ? '0' : tick.toFixed(1);")
eig_fmt = CustomJSTickFormatter(code="return tick.toFixed(0);")
blank_fmt = CustomJSTickFormatter(code="return '';")


def style_axis(ax, show_labels):
    ax.axis_line_color = AX
    ax.axis_line_width = 1.2
    ax.major_tick_line_color = AX
    ax.major_tick_line_width = 1.2
    ax.major_tick_in = 5
    ax.major_tick_out = 0
    ax.minor_tick_line_color = None
    ax.major_label_text_font = FONT
    ax.major_label_text_color = AX
    ax.axis_label_text_font = FONT
    ax.axis_label_text_font_style = "normal"
    ax.axis_label_text_color = AX
    ax.axis_label_text_font_size = "32px"
    if show_labels:
        ax.major_label_text_font_size = "29px"
    else:
        ax.major_label_text_font_size = "0px"
        ax.major_label_standoff = 0


def make_panel(pts, hi, xr, yr, xticks, yticks, yfmt, ylabel, title,
               ml, mr, mt, mb, fh, ylab_standoff):
    p = figure(frame_width=468, frame_height=fh,
               x_range=Range1d(*xr), y_range=Range1d(*yr),
               x_axis_type=None, y_axis_type=None,
               output_backend="svg", toolbar_location=None,
               min_border_left=ml, min_border_right=mr,
               min_border_top=mt, min_border_bottom=mb,
               background_fill_color="white", border_fill_color="white")
    p.outline_line_color = AX
    p.outline_line_width = 1.2

    xb = LinearAxis(ticker=FixedTicker(ticks=xticks), formatter=x_fmt, axis_label=x_label)
    style_axis(xb, True)
    xb.major_label_standoff = 12
    xb.axis_label_standoff = 6
    p.add_layout(xb, "below")

    yl = LinearAxis(ticker=FixedTicker(ticks=yticks), formatter=yfmt, axis_label=ylabel)
    style_axis(yl, True)
    yl.major_label_standoff = 9
    yl.axis_label_standoff = ylab_standoff
    p.add_layout(yl, "left")

    xa = LinearAxis(ticker=FixedTicker(ticks=xticks), formatter=blank_fmt)
    style_axis(xa, False)
    p.add_layout(xa, "above")
    yr_ax = LinearAxis(ticker=FixedTicker(ticks=yticks), formatter=blank_fmt)
    style_axis(yr_ax, False)
    p.add_layout(yr_ax, "right")

    if title:
        p.title.text = title
        p.title.text_font = FONT
        p.title.text_font_size = "32px"
        p.title.text_font_style = "bold"
        p.title.text_color = "black"
        p.title.align = "center"

    src = ColumnDataSource(dict(t=[a for a, b in pts], v=[b for a, b in pts]))
    p.scatter("t", "v", source=src, size=5.8, fill_color=BLUE, line_color=None)
    p.scatter(x=[hi[0]], y=[hi[1]], size=19, fill_color=None, line_color=RED, line_width=6)
    return p


s1_xr = (11.887, 23.164)
s2_xr = (12.135, 24.095)
msd_yr = (0, 0.8)
eig_yr = (0.805, 4.0)

p1 = make_panel(s1_msd_pts, (s1_hi_time, s1_hi_msd), s1_xr, msd_yr, s1_x_ticks, msd_ticks, msd_fmt,
                y_labels[0], titles[0], 181, 20, 80, 100, 356, 7)
p2 = make_panel(s2_msd_pts, (s2_hi_time, s2_hi_msd), s2_xr, msd_yr, s2_x_ticks, msd_ticks, msd_fmt,
                y_labels[0], titles[1], 128, 70, 80, 100, 356, 7)
p3 = make_panel(s1_eig_pts, (s1_hi_time, s1_hi_eig), s1_xr, eig_yr, s1_x_ticks, eig_ticks, eig_fmt,
                y_labels[1], None, 181, 20, 41, 100, 355, 5)
p4 = make_panel(s2_eig_pts, (s2_hi_time, s2_hi_eig), s2_xr, eig_yr, s2_x_ticks, eig_ticks, eig_fmt,
                y_labels[1], None, 128, 70, 41, 100, 355, 5)

layout = column(row(p1, p2), row(p3, p4))
open("out.html", "w").write(file_html(layout, INLINE))
